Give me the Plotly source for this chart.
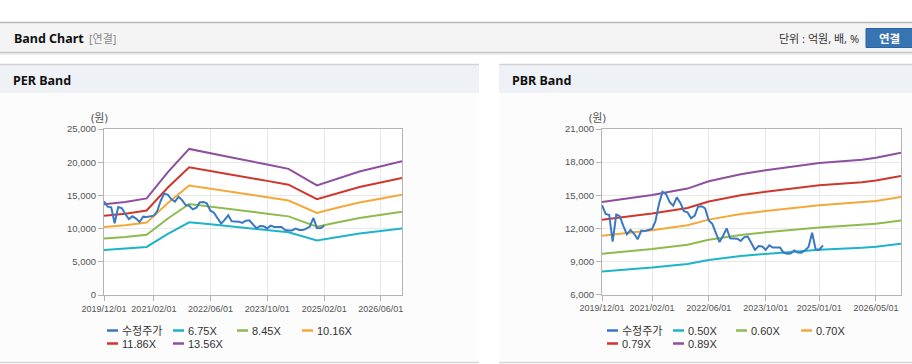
import plotly.graph_objects as go

W, H = 912, 364

# ---------------- data ----------------
price_dates = [
    "2019-12-01", "2020-01-01", "2020-02-01", "2020-03-01", "2020-04-01", "2020-05-01",
    "2020-06-01", "2020-07-01", "2020-08-01", "2020-09-01", "2020-10-01", "2020-11-01",
    "2020-12-01", "2021-01-01", "2021-02-01", "2021-03-01", "2021-04-01", "2021-05-01",
    "2021-06-01", "2021-07-01", "2021-08-01", "2021-09-01", "2021-10-01", "2021-11-01",
    "2021-12-01", "2022-01-01", "2022-02-01", "2022-03-01", "2022-04-01", "2022-05-01",
    "2022-06-01", "2022-07-01", "2022-08-01", "2022-09-01", "2022-10-01", "2022-11-01",
    "2022-12-01", "2023-01-01", "2023-02-01", "2023-03-01", "2023-04-01", "2023-05-01",
    "2023-06-01", "2023-07-01", "2023-08-01", "2023-09-01", "2023-10-01", "2023-11-01",
    "2023-12-01", "2024-01-01", "2024-02-01", "2024-03-01", "2024-04-01", "2024-05-01",
    "2024-06-01", "2024-07-01", "2024-08-01", "2024-09-01", "2024-10-01", "2024-11-01",
    "2024-12-01", "2025-01-01", "2025-02-01",
]
price_values = [
    14100, 13300, 13200, 10800, 13250, 13100,
    12200, 11450, 11850, 11500, 11000, 11800,
    11750, 11850, 11950, 12600, 14200, 15300,
    15100, 14400, 14050, 14800, 14300, 13550,
    13450, 12900, 13150, 13950, 14000, 13800,
    12700, 12400, 11550, 10750, 11300, 12000,
    11100, 11100, 11050, 10850, 11200, 11250,
    10700, 10050, 10400, 10350, 10050, 10450,
    10250, 10250, 10250, 9800, 9700, 9720,
    10000, 9800, 9780, 10000, 10300, 11600,
    10100, 10050, 10450,
]

per_dates = ["2019-12-01", "2020-06-01", "2020-12-01", "2021-06-01", "2021-12-01",
             "2022-06-01", "2022-12-01", "2023-10-01", "2024-04-01", "2024-12-01",
             "2025-06-01", "2025-12-01", "2026-12-01"]
per_675 = [6795, 6969, 7243, 9209, 10952, 10653, 10304, 9782, 9458, 8214, 8761, 9259, 10031]
per_845 = [8507, 8725, 9068, 11529, 13710, 13336, 12900, 12246, 11841, 10283, 10968, 11592, 12557]
per_1016 = [10228, 10490, 10902, 13862, 16485, 16035, 15511, 14724, 14237, 12363, 13188, 13937, 15098]
per_1186 = [11938, 12244, 12725, 16180, 19241, 18716, 18104, 17186, 16617, 14431, 15393, 16268, 17623]
per_1356 = [13650, 14000, 14550, 18500, 22000, 21400, 20700, 19650, 19000, 16500, 17600, 18600, 20150]

pbr_dates = ["2019-12-01", "2021-02-01", "2021-12-01", "2022-06-01", "2023-03-01",
             "2023-10-01", "2025-01-01", "2026-01-01", "2026-05-01", "2026-12-01"]
pbr_050 = [8084, 8438, 8764, 9135, 9494, 9697, 10067, 10236, 10337, 10596]
pbr_060 = [9702, 10126, 10518, 10962, 11394, 11637, 12082, 12284, 12405, 12715]
pbr_070 = [11318, 11813, 12269, 12788, 13292, 13575, 14094, 14330, 14472, 14833]
pbr_079 = [12773, 13332, 13847, 14432, 15000, 15320, 15906, 16172, 16332, 16740]
pbr_089 = [14390, 15020, 15600, 16260, 16900, 17260, 17920, 18220, 18400, 18860]

per_names = ["수정주가", "6.75X", "8.45X", "10.16X", "11.86X", "13.56X"]
pbr_names = ["수정주가", "0.50X", "0.60X", "0.70X", "0.79X", "0.89X"]

per_tickvals = ["2019-12-01", "2021-02-01", "2022-06-01", "2023-10-01", "2025-02-01", "2026-06-01"]
per_ticktext = ["2019/12/01", "2021/02/01", "2022/06/01", "2023/10/01", "2025/02/01", "2026/06/01"]
pbr_tickvals = ["2019-12-01", "2021-02-01", "2022-06-01", "2023-10-01", "2025-01-01", "2026-05-01"]
pbr_ticktext = ["2019/12/01", "2021/02/01", "2022/06/01", "2023/10/01", "2025/01/01", "2026/05/01"]

per_yticks = [0, 5000, 10000, 15000, 20000, 25000]
pbr_yticks = [6000, 9000, 12000, 15000, 18000, 21000]

colors = ["#3a78c4", "#1eb4c8", "#8dbb4e", "#f5a83a", "#cf372d", "#8e4f9e"]

# ---------------- helpers ----------------
def px(x):
    return x / W

def py(y):
    return 1 - y / H

fig = go.Figure()

per_series = [(price_dates, price_values), (per_dates, per_675), (per_dates, per_845),
              (per_dates, per_1016), (per_dates, per_1186), (per_dates, per_1356)]
pbr_series = [(price_dates, price_values), (pbr_dates, pbr_050), (pbr_dates, pbr_060),
              (pbr_dates, pbr_070), (pbr_dates, pbr_079), (pbr_dates, pbr_089)]

for order in [1, 2, 3, 4, 5, 0]:
    xs, ys = per_series[order]
    fig.add_trace(go.Scatter(x=xs, y=ys, mode="lines", name=per_names[order],
                             line=dict(color=colors[order], width=2),
                             xaxis="x", yaxis="y", showlegend=False))
for order in [1, 2, 3, 4, 5, 0]:
    xs, ys = pbr_series[order]
    fig.add_trace(go.Scatter(x=xs, y=ys, mode="lines", name=pbr_names[order],
                             line=dict(color=colors[order], width=2),
                             xaxis="x2", yaxis="y2", showlegend=False))

tickfont = dict(family="Liberation Sans, Arial, sans-serif", size=9.5, color="#555555")
common_x = dict(type="date", range=["2019-12-01", "2026-12-01"], showgrid=True,
                gridcolor="#e8e8e8", gridwidth=1, showline=True, mirror=True, linecolor="#b4b4b4",
                linewidth=1, ticks="outside", ticklen=5, tickcolor="#b4b4b4",
                tickfont=dict(family="Liberation Sans, Arial, sans-serif", size=9, color="#555555"),
                zeroline=False, fixedrange=True, automargin=False)
common_y = dict(showgrid=True, gridcolor="#e8e8e8", gridwidth=1, showline=True, mirror=True,
                linecolor="#b4b4b4", linewidth=1, ticks="outside", ticklen=5,
                tickcolor="#b4b4b4", tickfont=tickfont, tickformat=",",
                zeroline=False, fixedrange=True, automargin=False)

fig.update_layout(
    template="none",
    width=W, height=H,
    margin=dict(l=0, r=0, t=0, b=0, pad=0, autoexpand=False),
    paper_bgcolor="#ffffff",
    plot_bgcolor="rgba(0,0,0,0)",
    font=dict(family="Noto Sans, Noto Sans CJK KR, sans-serif", color="#333333"),
    xaxis=dict(common_x, domain=[px(104), px(402)], anchor="y",
               tickvals=per_tickvals, ticktext=per_ticktext),
    yaxis=dict(common_y, domain=[py(295), py(129)], anchor="x",
               range=[0, 25000], tickvals=per_yticks),
    xaxis2=dict(common_x, domain=[px(602), px(901)], anchor="y2",
                tickvals=pbr_tickvals, ticktext=pbr_ticktext),
    yaxis2=dict(common_y, domain=[py(294.5), py(129)], anchor="x2",
                range=[6000, 21000], tickvals=pbr_yticks),
    showlegend=False,
)

shapes = []
annots = []

def rect(x0, y0, x1, y1, fill, line=None, lw=0):
    shapes.append(dict(type="rect", xref="paper", yref="paper",
                       x0=px(x0), x1=px(x1), y0=py(y1), y1=py(y0),
                       fillcolor=fill, line=dict(color=line or fill, width=lw),
                       layer="below"))

def hline(x0, x1, y, color, w=1):
    shapes.append(dict(type="line", xref="paper", yref="paper",
                       x0=px(x0), x1=px(x1), y0=py(y), y1=py(y),
                       line=dict(color=color, width=w), layer="below"))

# top header bar
rect(0, 22, 912, 52, "#f4f4f4")
hline(0, 912, 22.5, "#b8b8b8", 1.5)
hline(0, 912, 52.5, "#c4c4c4", 1.5)
hline(0, 912, 54, "#e4e4e4", 1.5)

annots.append(dict(x=px(12), y=py(38.5), xref="paper", yref="paper", xanchor="left",
                   yanchor="middle", showarrow=False, text="<b>Band Chart</b>",
                   font=dict(size=12.5, color="#111111")))
annots.append(dict(x=px(87), y=py(38.5), xref="paper", yref="paper", xanchor="left",
                   yanchor="middle", showarrow=False, text="[연결]",
                   font=dict(size=11, color="#8a8a8a")))
annots.append(dict(x=px(861), y=py(38.5), xref="paper", yref="paper", xanchor="right",
                   yanchor="middle", showarrow=False, text="단위 : 억원, 배, %",
                   font=dict(size=11, color="#333333")))
shapes.append(dict(type="rect", xref="paper", yref="paper", x0=px(866), x1=px(914),
                   y0=py(47.5), y1=py(28.5), fillcolor="#3874b4",
                   line=dict(color="#2e649e", width=1), layer="below"))
annots.append(dict(x=px(889), y=py(38.5), xref="paper", yref="paper", xanchor="center",
                   yanchor="middle", showarrow=False, text="<b>연결</b>",
                   font=dict(size=11.5, color="#ffffff")))

for (x0, x1, title) in [(0, 479, "PER Band"), (499, 912, "PBR Band")]:
    rect(x0, 93, x1, 362, "#fcfcfc")
    rect(x0, 65, x1, 93, "#eef2f7")
    hline(x0, x1, 64.5, "#d2d2d2", 1.5)
    hline(x0, x1, 362.5, "#d6d6d6", 1.5)
    annots.append(dict(x=px(x0 + 11), y=py(80), xref="paper", yref="paper",
                       xanchor="left", yanchor="middle", showarrow=False,
                       text="<b>" + title + "</b>", font=dict(size=12.5, color="#111111")))

rect(104, 129, 402, 295, "#ffffff")
rect(602, 129, 901, 294.5, "#ffffff")

annots.append(dict(x=px(99), y=py(118), xref="paper", yref="paper", xanchor="center",
                   yanchor="middle", showarrow=False, text="(원)",
                   font=dict(size=11, color="#555555")))
annots.append(dict(x=px(597), y=py(118), xref="paper", yref="paper", xanchor="center",
                   yanchor="middle", showarrow=False, text="(원)",
                   font=dict(size=11, color="#555555")))

def legend(names, xs_row, y_rows):
    pos = [(xs_row[0], y_rows[0]), (xs_row[1], y_rows[0]), (xs_row[2], y_rows[0]),
           (xs_row[3], y_rows[0]), (xs_row[0], y_rows[1]), (xs_row[1], y_rows[1])]
    for i, name in enumerate(names):
        lx, ly = pos[i]
        shapes.append(dict(type="line", xref="paper", yref="paper",
                           x0=px(lx), x1=px(lx + 11), y0=py(ly), y1=py(ly),
                           line=dict(color=colors[i], width=2.5)))
        annots.append(dict(x=px(lx + 13), y=py(ly), xref="paper", yref="paper",
                           xanchor="left", yanchor="middle", showarrow=False,
                           text=name, font=dict(size=11, color="#333333",
                                                family="Liberation Sans, Noto Sans CJK KR, sans-serif")))

legend(per_names, [107, 173, 237, 302], [330.5, 343.5])
legend(pbr_names, [607, 673, 736, 801], [330.5, 343.5])

fig.update_layout(shapes=shapes, annotations=annots)

fig.write_html("out.html",
               config={"displayModeBar": False, "staticPlot": True},
               post_script="document.body.style.margin='0';document.body.style.overflow='hidden';")
